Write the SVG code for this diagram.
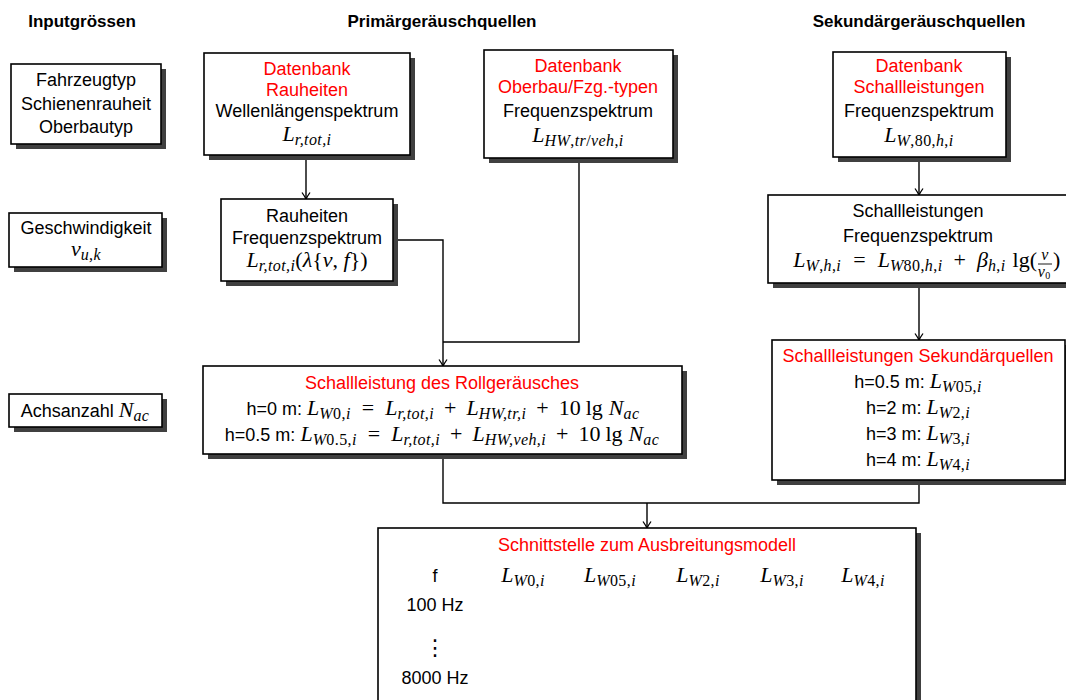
<svg xmlns="http://www.w3.org/2000/svg" width="1066" height="700" viewBox="0 0 1066 700">
  <style>
    .shadow { fill: #404040; }
    .box { fill: #ffffff; stroke: #000000; stroke-width: 1.6; }
    .t { font-family: "Liberation Sans", Arial, sans-serif; font-size: 18px; fill: #000000; text-anchor: middle; }
    .hd { font-family: "Liberation Sans", Arial, sans-serif; font-size: 17px; font-weight: bold; fill: #000000; text-anchor: middle; }
    .red { fill: #ff0000; }
    .m { font-family: "Liberation Serif", "Times New Roman", serif; font-size: 22px; font-style: normal; }
    .i { font-style: italic; }
    .sb { font-size: 16px; letter-spacing: 0.4px; }
    .wire { fill: none; stroke: #000000; stroke-width: 1.4; }
  </style>
  <defs>
    <marker id="arrow" viewBox="-8 -5 10 10" refX="0" refY="0" markerWidth="10" markerHeight="10" markerUnits="userSpaceOnUse" orient="auto">
      <path d="M-6.5,-4 Q-2.5,-1.2 0,0 Q-2.5,1.2 -6.5,4" fill="none" stroke="#000000" stroke-width="1.3"/>
    </marker>
  </defs>

  <rect width="1066" height="700" fill="#ffffff"/>

  <!-- column headings -->
  <g id="headings">
    <text class="hd" x="82" y="27">Inputgrössen</text>
    <text class="hd" x="442" y="27">Primärgeräuschquellen</text>
    <text class="hd" x="919" y="27">Sekundärgeräuschquellen</text>
  </g>

  <!-- connectors -->
  <g id="connectors">
    <path class="wire" d="M306,155 V199" marker-end="url(#arrow)"/>
    <path class="wire" d="M393,240 H443 V366" marker-end="url(#arrow)"/>
    <path class="wire" d="M579,158 V342 H443"/>
    <path class="wire" d="M919,157 V195" marker-end="url(#arrow)"/>
    <path class="wire" d="M919,283 V340" marker-end="url(#arrow)"/>
    <path class="wire" d="M443,454 V503 H919 V480"/>
    <path class="wire" d="M647,503 V528" marker-end="url(#arrow)"/>
  </g>

  <!-- input: vehicle / rail / track -->
  <g id="input-types">
    <rect class="shadow" x="16" y="69" width="150" height="80"/>
    <rect class="box" x="11" y="64" width="150" height="80"/>
    <text class="t" x="86" y="86">Fahrzeugtyp</text>
    <text class="t" x="86" y="110">Schienenrauheit</text>
    <text class="t" x="86" y="133">Oberbautyp</text>
  </g>

  <!-- input: speed -->
  <g id="input-speed">
    <rect class="shadow" x="14" y="218" width="153" height="54"/>
    <rect class="box" x="9" y="213" width="153" height="54"/>
    <text class="t" x="86" y="234">Geschwindigkeit</text>
    <text class="t" x="86" y="256"><tspan class="m i">v</tspan><tspan class="m sb i" dy="4">u,k</tspan></text>
  </g>

  <!-- input: number of axles -->
  <g id="input-axles">
    <rect class="shadow" x="14" y="399" width="153" height="33"/>
    <rect class="box" x="9" y="394" width="153" height="33"/>
    <text class="t" x="85" y="417">Achsanzahl <tspan class="m i">N</tspan><tspan class="m sb i" dy="4">ac</tspan></text>
  </g>

  <!-- database: roughness -->
  <g id="db-roughness">
    <rect class="shadow" x="209" y="58" width="206" height="102"/>
    <rect class="box" x="204" y="53" width="206" height="102"/>
    <text class="t red" x="307" y="75">Datenbank</text>
    <text class="t red" x="307" y="96">Rauheiten</text>
    <text class="t" x="307" y="117">Wellenlängenspektrum</text>
    <text class="t" x="307" y="141"><tspan class="m i">L</tspan><tspan class="m sb i" dy="4">r,tot,i</tspan></text>
  </g>

  <!-- database: track / vehicle types -->
  <g id="db-track">
    <rect class="shadow" x="489" y="55" width="189" height="108"/>
    <rect class="box" x="484" y="50" width="189" height="108"/>
    <text class="t red" x="578" y="72">Datenbank</text>
    <text class="t red" x="578" y="93">Oberbau/Fzg.-typen</text>
    <text class="t" x="578" y="117">Frequenzspektrum</text>
    <text class="t" x="578" y="142"><tspan class="m i">L</tspan><tspan class="m sb" dy="4"><tspan class="i">HW</tspan>,<tspan class="i">tr</tspan>/<tspan class="i">veh</tspan>,<tspan class="i">i</tspan></tspan></text>
  </g>

  <!-- database: sound power -->
  <g id="db-soundpower">
    <rect class="shadow" x="838" y="57" width="173" height="105"/>
    <rect class="box" x="833" y="52" width="173" height="105"/>
    <text class="t red" x="919" y="72">Datenbank</text>
    <text class="t red" x="919" y="93">Schallleistungen</text>
    <text class="t" x="919" y="117">Frequenzspektrum</text>
    <text class="t" x="919" y="142"><tspan class="m i">L</tspan><tspan class="m sb" dy="4"><tspan class="i">W</tspan>,80,<tspan class="i">h</tspan>,<tspan class="i">i</tspan></tspan></text>
  </g>

  <!-- roughness frequency spectrum -->
  <g id="roughness-spectrum">
    <rect class="shadow" x="226" y="204" width="172" height="82"/>
    <rect class="box" x="221" y="199" width="172" height="82"/>
    <text class="t" x="307" y="222">Rauheiten</text>
    <text class="t" x="307" y="244">Frequenzspektrum</text>
    <text class="t" x="307" y="267"><tspan class="m i">L</tspan><tspan class="m sb i" dy="4">r,tot,i</tspan><tspan class="m" dy="-4">(</tspan><tspan class="m i">λ</tspan><tspan class="m">{</tspan><tspan class="m i">v</tspan><tspan class="m">, </tspan><tspan class="m i">f</tspan><tspan class="m">})</tspan></text>
  </g>

  <!-- sound power frequency spectrum -->
  <g id="soundpower-spectrum">
    <rect class="shadow" x="773" y="200" width="302" height="88"/>
    <rect class="box" x="768" y="195" width="302" height="88"/>
    <text class="t" x="918" y="217">Schallleistungen</text>
    <text class="t" x="918" y="242">Frequenzspektrum</text>
    <text class="t" x="1037" y="267" style="text-anchor:end"><tspan class="m i">L</tspan><tspan class="m sb" dy="4"><tspan class="i">W</tspan>,<tspan class="i">h</tspan>,<tspan class="i">i</tspan></tspan><tspan class="m" dy="-4" dx="12">=</tspan><tspan class="m i" dx="12">L</tspan><tspan class="m sb" dy="4"><tspan class="i">W</tspan>80,<tspan class="i">h</tspan>,<tspan class="i">i</tspan></tspan><tspan class="m" dy="-4" dx="11">+</tspan><tspan class="m i" dx="11">β</tspan><tspan class="m sb" dy="4"><tspan class="i">h</tspan>,<tspan class="i">i</tspan></tspan><tspan class="m" dy="-4" dx="7">lg(</tspan></text>
    <text class="t" x="1045" y="260"><tspan class="m sb i">v</tspan></text>
    <line x1="1038" y1="264" x2="1052" y2="264" stroke="#000000" stroke-width="0.9"/>
    <text class="t" x="1044" y="277"><tspan class="m sb i">v</tspan><tspan class="m" style="font-size:10px" dy="2">0</tspan></text>
    <text class="t" x="1053" y="267" style="text-anchor:start"><tspan class="m">)</tspan></text>
  </g>

  <!-- rolling noise sound power -->
  <g id="rolling-noise">
    <rect class="shadow" x="208" y="371" width="479" height="88"/>
    <rect class="box" x="203" y="366" width="479" height="88"/>
    <text class="t red" x="442" y="389">Schallleistung des Rollgeräusches</text>
    <text class="t" x="443" y="415">h=0 m: <tspan class="m i">L</tspan><tspan class="m sb" dy="4"><tspan class="i">W</tspan>0,<tspan class="i">i</tspan></tspan><tspan class="m" dy="-4" dx="11">=</tspan><tspan class="m i" dx="11">L</tspan><tspan class="m sb i" dy="4">r,tot,i</tspan><tspan class="m" dy="-4" dx="10">+</tspan><tspan class="m i" dx="10">L</tspan><tspan class="m sb i" dy="4">HW,tr,i</tspan><tspan class="m" dy="-4" dx="10">+</tspan><tspan class="m" dx="10">10</tspan><tspan class="m" dx="5">lg</tspan><tspan class="m i" dx="6">N</tspan><tspan class="m sb i" dy="4">ac</tspan></text>
    <text class="t" x="442" y="441">h=0.5 m: <tspan class="m i">L</tspan><tspan class="m sb" dy="4"><tspan class="i">W</tspan>0.5,<tspan class="i">i</tspan></tspan><tspan class="m" dy="-4" dx="11">=</tspan><tspan class="m i" dx="11">L</tspan><tspan class="m sb i" dy="4">r,tot,i</tspan><tspan class="m" dy="-4" dx="10">+</tspan><tspan class="m i" dx="10">L</tspan><tspan class="m sb i" dy="4">HW,veh,i</tspan><tspan class="m" dy="-4" dx="10">+</tspan><tspan class="m" dx="10">10</tspan><tspan class="m" dx="5">lg</tspan><tspan class="m i" dx="6">N</tspan><tspan class="m sb i" dy="4">ac</tspan></text>
  </g>

  <!-- secondary sources sound power -->
  <g id="secondary-sources">
    <rect class="shadow" x="777" y="345" width="293" height="140"/>
    <rect class="box" x="772" y="340" width="293" height="140"/>
    <text class="t red" x="918" y="362">Schallleistungen Sekundärquellen</text>
    <text class="t" x="918" y="388">h=0.5 m: <tspan class="m i">L</tspan><tspan class="m sb" dy="4"><tspan class="i">W</tspan>05,<tspan class="i">i</tspan></tspan></text>
    <text class="t" x="918" y="414">h=2 m: <tspan class="m i">L</tspan><tspan class="m sb" dy="4"><tspan class="i">W</tspan>2,<tspan class="i">i</tspan></tspan></text>
    <text class="t" x="918" y="440">h=3 m: <tspan class="m i">L</tspan><tspan class="m sb" dy="4"><tspan class="i">W</tspan>3,<tspan class="i">i</tspan></tspan></text>
    <text class="t" x="918" y="466">h=4 m: <tspan class="m i">L</tspan><tspan class="m sb" dy="4"><tspan class="i">W</tspan>4,<tspan class="i">i</tspan></tspan></text>
  </g>

  <!-- interface to the propagation model -->
  <g id="interface">
    <rect class="shadow" x="383" y="533" width="538" height="190"/>
    <rect class="box" x="378" y="528" width="538" height="190"/>
    <text class="t red" x="647" y="551">Schnittstelle zum Ausbreitungsmodell</text>
    <text class="t" x="435" y="582">f</text>
    <text class="t" x="523" y="582"><tspan class="m i">L</tspan><tspan class="m sb" dy="4"><tspan class="i">W</tspan>0,<tspan class="i">i</tspan></tspan></text>
    <text class="t" x="610" y="582"><tspan class="m i">L</tspan><tspan class="m sb" dy="4"><tspan class="i">W</tspan>05,<tspan class="i">i</tspan></tspan></text>
    <text class="t" x="698" y="582"><tspan class="m i">L</tspan><tspan class="m sb" dy="4"><tspan class="i">W</tspan>2,<tspan class="i">i</tspan></tspan></text>
    <text class="t" x="782" y="582"><tspan class="m i">L</tspan><tspan class="m sb" dy="4"><tspan class="i">W</tspan>3,<tspan class="i">i</tspan></tspan></text>
    <text class="t" x="863" y="582"><tspan class="m i">L</tspan><tspan class="m sb" dy="4"><tspan class="i">W</tspan>4,<tspan class="i">i</tspan></tspan></text>
    <text class="t" x="435" y="611">100 Hz</text>
    <text class="t" x="435" y="655" style="font-family:'DejaVu Sans',sans-serif;font-size:22px">⋮</text>
    <text class="t" x="435" y="684">8000 Hz</text>
  </g>
</svg>
